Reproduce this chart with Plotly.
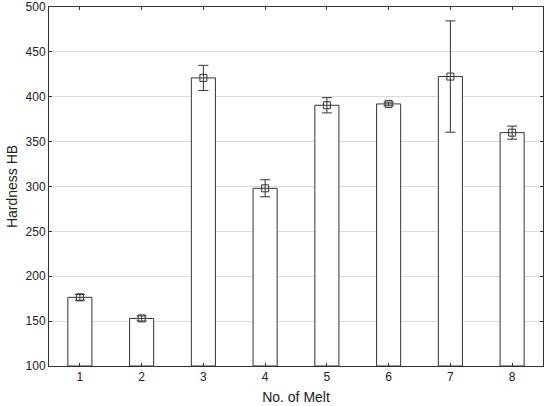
import plotly.graph_objects as go

melts = [1, 2, 3, 4, 5, 6, 7, 8]
hardness = [176.5, 153.0, 421.0, 298.0, 390.5, 392.0, 422.5, 360.0]
error = [3.2, 2.8, 14.0, 9.5, 8.5, 2.0, 62.0, 7.3]
y_ticks = [100, 150, 200, 250, 300, 350, 400, 450, 500]

line_col = "#333333"

fig = go.Figure()
fig.add_trace(
    go.Bar(
        x=melts,
        y=[h - 100 for h in hardness],
        base=100,
        width=0.39,
        marker={"color": "white", "line": {"color": line_col, "width": 1}},
        showlegend=False,
        hoverinfo="skip",
    )
)
fig.add_trace(
    go.Scatter(
        x=melts,
        y=hardness,
        mode="markers",
        marker={"symbol": "square-open", "size": 7, "color": line_col, "line": {"width": 1}},
        error_y={"type": "data", "array": error, "visible": True, "color": line_col,
                 "thickness": 1, "width": 5},
        showlegend=False,
    )
)

axis_common = dict(
    showline=True,
    linecolor=line_col,
    linewidth=1,
    mirror="ticks",
    ticks="inside",
    ticklen=3,
    tickcolor=line_col,
    tickfont={"family": "Liberation Sans, Arial", "size": 12, "color": "#222"},
    zeroline=False,
    automargin=False,
)

fig.update_layout(
    width=550,
    height=406,
    margin={"l": 49, "r": 7, "t": 7, "b": 40},
    plot_bgcolor="white",
    paper_bgcolor="white",
    font={"family": "Liberation Sans, Arial", "size": 12, "color": "#222"},
    xaxis=dict(
        axis_common,
        range=[0.5, 8.5],
        tickvals=melts,
        showgrid=False,
        title={"text": "No. of Melt", "standoff": 8},
    ),
    yaxis=dict(
        axis_common,
        range=[100, 500],
        tickvals=y_ticks,
        showgrid=True,
        gridcolor="#dcdcdc",
        title={"text": "Hardness HB", "standoff": 4},
    ),
)

# the page body has a default 8px margin; drop it so the figure sits at the corner
fig.write_html(
    "out.html",
    config={"displayModeBar": False},
    post_script="document.body.style.margin='0';",
)
